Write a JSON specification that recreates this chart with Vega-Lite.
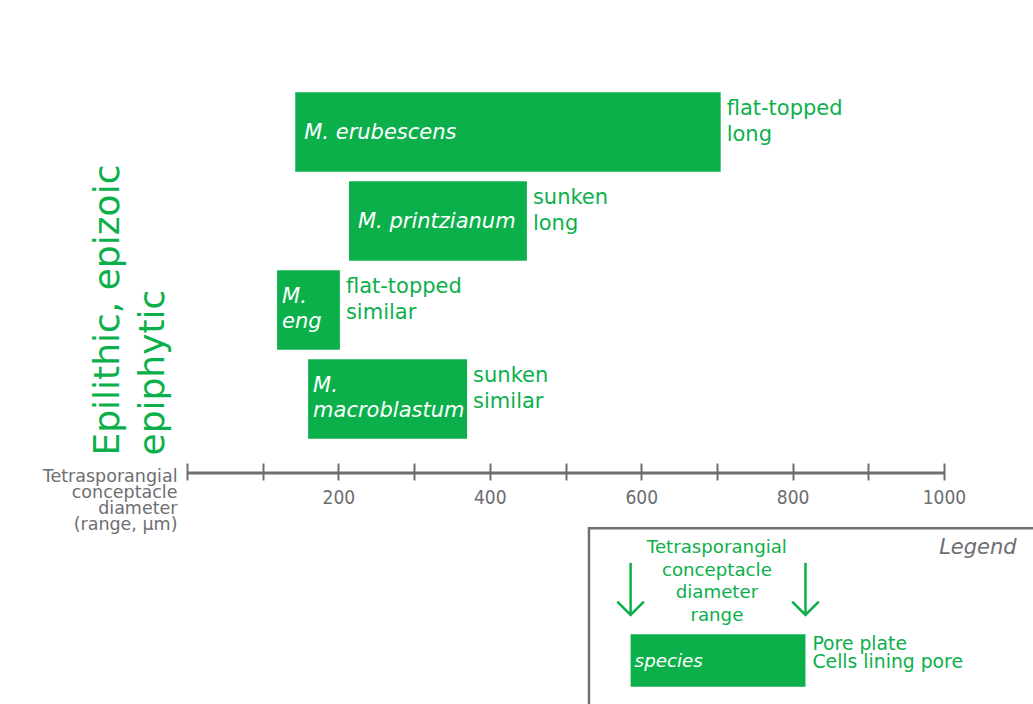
{
  "$schema": "https://vega.github.io/schema/vega-lite/v6.json",
  "width": 757,
  "height": 430,
  "autosize": {"type": "none"},
  "padding": {"left": 187, "top": 43, "right": 89, "bottom": 231},
  "background": "white",
  "config": {"view": {"stroke": null}, "font": "DejaVu Sans"},
  "datasets": {
    "species": [
      {"species": "M. erubescens", "row": 1, "min": 143, "max": 705, "traits": "flat-topped\nlong"},
      {"species": "M. printzianum", "row": 2, "min": 214, "max": 449, "traits": "sunken\nlong"},
      {"species": "M.\neng", "row": 3, "min": 119, "max": 202, "traits": "flat-topped\nsimilar"},
      {"species": "M.\nmacroblastum", "row": 4, "min": 160, "max": 370, "traits": "sunken\nsimilar"}
    ],
    "legendBar": [
      {"species": "species", "row": 6.936, "min": 586, "max": 817, "traits": "Pore plate\nCells lining pore"}
    ],
    "legendArrows": [
      {"at": 586, "top": 5.84, "tip": 6.425},
      {"at": 817, "top": 5.84, "tip": 6.425}
    ],
    "legendBox": [
      {"left": 531, "right": 1200, "top": 5.451, "bottom": 8.3}
    ],
    "legendNotes": [
      {"at": 700, "row": 6.031, "note": "Tetrasporangial\nconceptacle\ndiameter\nrange"}
    ],
    "legendTitle": [
      {"at": 1096, "row": 5.676, "note": "Legend"}
    ]
  },
  "layer": [
    {
      "data": {"name": "species"},
      "mark": {"type": "bar", "height": 79.5, "color": "#0cb04b"},
      "encoding": {
        "x": {
          "field": "min", "type": "quantitative",
          "scale": {"domain": [0, 1000], "nice": false, "zero": false, "padding": 0},
          "axis": {
            "values": [0, 100, 200, 300, 400, 500, 600, 700, 800, 900, 1000],
            "format": "d",
            "labelExpr": "datum.value > 0 && datum.value % 200 === 0 ? datum.label : ''",
            "offset": -10,
            "domain": false,
            "grid": false,
            "tickSize": 17,
            "tickWidth": 2,
            "tickColor": "#6d6e71",
            "labelFont": "DejaVu Sans Condensed, Liberation Sans, sans-serif",
            "labelFontSize": 19,
            "labelColor": "#6d6e71",
            "labelPadding": 8,
            "labelFlush": false,
            "labelOverlap": false,
            "title": ["Tetrasporangial", "conceptacle", "diameter", "(range, µm)"],
            "titleFont": "DejaVu Sans",
            "titleFontSize": 17.5,
            "titleFontWeight": "normal",
            "titleColor": "#6d6e71",
            "titleAlign": "right",
            "titleAnchor": "start",
            "titleBaseline": "top",
            "titleLineHeight": 16.3,
            "titleX": -10,
            "titleY": 4
          }
        },
        "x2": {"field": "max"},
        "y": {
          "field": "row", "type": "quantitative",
          "scale": {"domain": [0, 4.83], "nice": false, "zero": false, "reverse": true, "padding": 0},
          "axis": {
            "labels": false,
            "ticks": false,
            "domain": false,
            "grid": false,
            "title": ["Epilithic, epizoic", "epiphytic"],
            "titleFont": "DejaVu Sans",
            "titleFontSize": 36,
            "titleFontWeight": "normal",
            "titleColor": "#0cb04b",
            "titleAngle": -90,
            "titleAlign": "left",
            "titleBaseline": "alphabetic",
            "titleLineHeight": 45,
            "titleX": -69,
            "titleY": 412
          }
        }
      }
    },
    {
      "data": {"name": "species"},
      "transform": [{"filter": "indexof(datum.species, '\\n') < 0"}],
      "mark": {"type": "text", "align": "left", "baseline": "middle", "dx": 9, "dy": 1, "fontSize": 21, "fontStyle": "italic", "color": "white"},
      "encoding": {
        "x": {"field": "min", "type": "quantitative"},
        "y": {"field": "row", "type": "quantitative"},
        "text": {"field": "species"}
      }
    },
    {
      "data": {"name": "species"},
      "transform": [{"filter": "indexof(datum.species, '\\n') >= 0"}],
      "mark": {"type": "text", "align": "left", "baseline": "middle", "dx": 5, "dy": -13, "fontSize": 21, "fontStyle": "italic", "color": "white", "lineBreak": "\n", "lineHeight": 25},
      "encoding": {
        "x": {"field": "min", "type": "quantitative"},
        "y": {"field": "row", "type": "quantitative"},
        "text": {"field": "species"}
      }
    },
    {
      "data": {"name": "species"},
      "mark": {"type": "text", "align": "left", "baseline": "middle", "dx": 6, "dy": -23, "fontSize": 21, "color": "#0cb04b", "lineBreak": "\n", "lineHeight": 25.5},
      "encoding": {
        "x": {"field": "max", "type": "quantitative"},
        "y": {"field": "row", "type": "quantitative"},
        "text": {"field": "traits"}
      }
    },
    {
      "data": {"values": [{}]},
      "mark": {"type": "rule", "color": "#6d6e71", "strokeWidth": 3},
      "encoding": {
        "x": {"datum": 0, "type": "quantitative"},
        "x2": {"datum": 1000},
        "y": {"datum": 4.83, "type": "quantitative"}
      }
    },
    {
      "data": {"name": "legendBox"},
      "mark": {"type": "rect", "filled": false, "stroke": "#707070", "strokeWidth": 2.5},
      "encoding": {
        "x": {"field": "left", "type": "quantitative"},
        "x2": {"field": "right"},
        "y": {"field": "top", "type": "quantitative"},
        "y2": {"field": "bottom"}
      }
    },
    {
      "data": {"name": "legendBar"},
      "mark": {"type": "bar", "height": 52.5, "color": "#0cb04b"},
      "encoding": {
        "x": {"field": "min", "type": "quantitative"},
        "x2": {"field": "max"},
        "y": {"field": "row", "type": "quantitative"}
      }
    },
    {
      "data": {"name": "legendBar"},
      "mark": {"type": "text", "align": "left", "baseline": "middle", "dx": 4, "dy": 1.5, "fontSize": 18.3, "fontStyle": "italic", "color": "white"},
      "encoding": {
        "x": {"field": "min", "type": "quantitative"},
        "y": {"field": "row", "type": "quantitative"},
        "text": {"field": "species"}
      }
    },
    {
      "data": {"name": "legendBar"},
      "mark": {"type": "text", "align": "left", "baseline": "middle", "dx": 7, "dy": -16.5, "fontSize": 18.8, "color": "#0cb04b", "lineBreak": "\n", "lineHeight": 18},
      "encoding": {
        "x": {"field": "max", "type": "quantitative"},
        "y": {"field": "row", "type": "quantitative"},
        "text": {"field": "traits"}
      }
    },
    {
      "data": {"name": "legendArrows"},
      "mark": {"type": "rule", "color": "#0cb04b", "strokeWidth": 2.5},
      "encoding": {
        "x": {"field": "at", "type": "quantitative"},
        "y": {"field": "top", "type": "quantitative"},
        "y2": {"field": "tip"}
      }
    },
    {
      "data": {"name": "legendArrows"},
      "mark": {"type": "point", "shape": "M-1,-1L0,0L1,-1", "filled": false, "size": 708, "stroke": "#0cb04b", "strokeWidth": 2.5, "opacity": 1},
      "encoding": {
        "x": {"field": "at", "type": "quantitative"},
        "y": {"field": "tip", "type": "quantitative"}
      }
    },
    {
      "data": {"name": "legendNotes"},
      "mark": {"type": "text", "align": "center", "baseline": "middle", "dy": -31.5, "fontSize": 18.2, "color": "#0cb04b", "lineBreak": "\n", "lineHeight": 22.4},
      "encoding": {
        "x": {"field": "at", "type": "quantitative"},
        "y": {"field": "row", "type": "quantitative"},
        "text": {"field": "note"}
      }
    },
    {
      "data": {"name": "legendTitle"},
      "mark": {"type": "text", "align": "right", "baseline": "middle", "fontSize": 21, "fontStyle": "italic", "color": "#6d6e71"},
      "encoding": {
        "x": {"field": "at", "type": "quantitative"},
        "y": {"field": "row", "type": "quantitative"},
        "text": {"field": "note"}
      }
    }
  ]
}
